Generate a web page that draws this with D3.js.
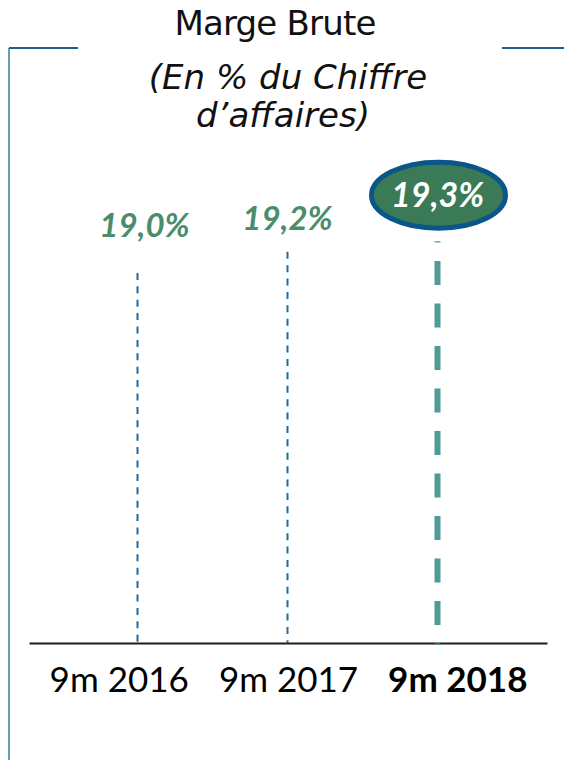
<!DOCTYPE html>
<html>
<head>
<meta charset="utf-8">
<script src="https://cdn.jsdelivr.net/npm/d3@7"></script>
<style>
  body { margin: 0; background: #fff; }
  svg { display: block; font-family: Lato, 'Open Sans', sans-serif; }
</style>
</head>
<body>
<div id="chartbox"></div>
<script>
const categories = ['9m 2016', '9m 2017', '9m 2018']
const values = [19.0, 19.2, 19.3]
const valueLabels = ['19,0%', '19,2%', '19,3%']
const titleLines = ['Marge Brute', '(En % du Chiffre', 'd\u2019affaires)']

const WIDTH = 564
const HEIGHT = 760
const AXIS_Y = 643
const last = categories.length - 1

const svg = d3.select('#chartbox')
  .append('svg')
  .attr('width', WIDTH)
  .attr('height', HEIGHT)

// frame pieces
svg.append('line')
  .attr('x1', 9).attr('x2', 9).attr('y1', 48).attr('y2', HEIGHT)
  .attr('stroke', '#6a9fb1').attr('stroke-width', 2)
svg.append('line')
  .attr('x1', 9).attr('x2', 78).attr('y1', 48).attr('y2', 48)
  .attr('stroke', '#1d5f8d').attr('stroke-width', 2)
svg.append('line')
  .attr('x1', 502).attr('x2', WIDTH).attr('y1', 48).attr('y2', 48)
  .attr('stroke', '#1d5f8d').attr('stroke-width', 2)

// title
svg.append('g')
  .selectAll('text')
  .data(titleLines)
  .enter()
  .append('text')
  .attr('x', (d, i) => [275, 288, 283][i])
  .attr('y', (d, i) => [35, 89, 127][i])
  .attr('text-anchor', 'middle')
  .attr('font-family', "'DejaVu Sans', sans-serif")
  .attr('font-size', 34)
  .attr('letter-spacing', (d, i) => i === 0 ? -0.8 : 0)
  .attr('font-style', (d, i) => i ? 'italic' : 'normal')
  .attr('fill', '#111')
  .text(d => d)

const x = d3.scalePoint()
  .domain(categories)
  .range([28, 547])
  .padding(0.73)

// tick labels sit on a slightly wider spacing than the drop lines
const xLabel = d3.scalePoint()
  .domain(categories)
  .range([29, 547])
  .padding(0.53)

const y = d3.scaleLinear()
  .domain([15.5, 19.5])
  .range([AXIS_Y, 220])

const labelY = d3.scaleLinear()
  .domain([19.0, 19.2])
  .range([237, 230])

// axis
const axis = d3.axisBottom(xLabel).tickSize(0).tickSizeOuter(0).tickPadding(16)
const gAxis = svg.append('g')
  .attr('transform', `translate(0,${AXIS_Y})`)
  .call(axis)
gAxis.select('.domain').attr('stroke', '#231a10').attr('stroke-width', 2)
gAxis.selectAll('.tick text')
  .attr('dy', '0.95em')
  .attr('font-size', 35)
  .attr('font-family', 'Lato, sans-serif')
  .attr('font-weight', (d, i) => i === last ? 'bold' : 'normal')
  .attr('fill', '#000')

// drop lines
svg.append('g')
  .selectAll('line')
  .data(values)
  .enter()
  .append('line')
  .attr('x1', (d, i) => x(categories[i]))
  .attr('x2', (d, i) => x(categories[i]))
  .attr('y1', d => y(d))
  .attr('y2', (d, i) => i === last ? AXIS_Y + 2 : AXIS_Y)
  .attr('stroke', (d, i) => i === last ? '#4e9b98' : '#1f6c9c')
  .attr('stroke-width', (d, i) => i === last ? 6 : 2)
  .attr('stroke-dasharray', (d, i) => i === last ? '24,18.5' : '7,6.4')
  .attr('stroke-dashoffset', (d, i) => i === last ? 22.7 : 0)

// value labels
svg.append('g')
  .selectAll('text')
  .data(values.slice(0, last))
  .enter()
  .append('text')
  .attr('x', (d, i) => x(categories[i]) + (i === 0 ? 7 : 0))
  .attr('y', d => labelY(d))
  .attr('text-anchor', 'middle')
  .attr('font-size', 33)
  .attr('font-weight', 'bold')
  .attr('font-style', 'italic')
  .attr('fill', '#4a8c6c')
  .text((d, i) => valueLabels[i])

// highlighted value
const hl = svg.append('g')
  .attr('transform', `translate(${x(categories[last])},${y(values[last]) - 46})`)
hl.append('ellipse')
  .attr('cx', 1)
  .attr('rx', 67)
  .attr('ry', 33)
  .attr('fill', '#3b7a56')
  .attr('stroke', '#0b5689')
  .attr('stroke-width', 5)
hl.append('text')
  .attr('y', 12)
  .attr('text-anchor', 'middle')
  .attr('font-size', 34)
  .attr('font-weight', 'bold')
  .attr('font-style', 'italic')
  .attr('fill', '#fff')
  .text(valueLabels[last])
</script>
</body>
</html>
